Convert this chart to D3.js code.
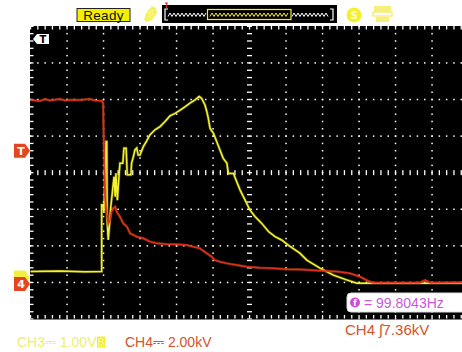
<!DOCTYPE html>
<html><head><meta charset="utf-8">
<script src="https://cdn.jsdelivr.net/npm/d3@7"></script>
<style>body{margin:0;background:#fff;overflow:hidden}</style>
</head><body>
<svg id="c" width="462" height="352"></svg>
<script>
// ---- data (time in divisions from trigger centre) ----
const ch3Time = [-6.0,-5.19,-4.51,-4.05,-4.05,-4.01,-3.99,-3.93,-3.91,-3.90,-3.87,-3.84,-3.80,-3.75,-3.71,-3.68,-3.66,-3.62,-3.59,-3.55,-3.47,-3.44,-3.38,-3.35,-3.25,-3.23,-3.18,-3.14,-3.09,-3.05,-3.00,-2.91,-2.82,-2.73,-2.59,-2.45,-2.32,-2.18,-2.04,-1.90,-1.77,-1.63,-1.49,-1.38,-1.31,-1.22,-1.17,-1.13,-1.08,-0.99,-0.90,-0.81,-0.72,-0.62,-0.58,-0.44,-0.35,-0.26,-0.12,0.01,0.15,0.33,0.52,0.70,0.88,1.06,1.25,1.38,1.57,1.93,2.30,2.66,2.94,3.30,6.0];
const ch3Volts = [0.0,0.01,-0.01,0.0,1.82,1.82,1.60,3.55,3.55,1.41,0.86,1.22,1.77,2.23,2.59,2.04,2.68,1.95,2.41,2.96,2.96,3.37,3.37,2.64,2.64,2.96,3.14,3.32,3.37,3.18,3.18,3.41,3.56,3.73,3.87,3.96,4.09,4.25,4.32,4.41,4.50,4.60,4.69,4.78,4.73,4.55,4.37,4.19,3.91,3.78,3.55,3.32,3.09,2.96,2.68,2.68,2.45,2.23,1.95,1.68,1.50,1.32,1.09,0.95,0.86,0.72,0.59,0.50,0.31,0.09,-0.10,-0.23,-0.32,-0.32,-0.32];
const ch4Time = [-6.0,-5.74,-5.60,-5.47,-5.19,-5.05,-4.92,-4.64,-4.37,-4.23,-4.05,-4.01,-3.99,-3.96,-3.91,-3.87,-3.82,-3.78,-3.73,-3.68,-3.64,-3.55,-3.46,-3.36,-3.27,-3.18,-3.09,-2.91,-2.73,-2.54,-2.27,-1.99,-1.72,-1.54,-1.36,-1.17,-1.04,-0.95,-0.81,-0.62,-0.35,-0.08,0.29,0.65,1.02,1.38,1.93,2.40,2.75,3.03,3.25,3.39,4.67,4.81,4.95,6.0];
const ch4KiloVolts = [9.97,9.92,10.03,9.94,10.03,9.94,9.97,9.97,10.03,9.94,9.93,9.79,7.42,4.68,3.78,3.23,3.41,3.87,4.05,4.14,3.87,3.59,3.23,3.05,2.68,2.59,2.50,2.41,2.23,2.14,2.08,2.08,2.04,1.95,1.86,1.59,1.41,1.22,1.13,1.04,0.95,0.86,0.80,0.77,0.72,0.71,0.64,0.59,0.50,0.31,0.08,-0.02,-0.02,0.13,-0.02,0.0];
const statusLabel = "Ready";
const ch3Label = "CH3\u2393 1.00V";
const ch4Label = "CH4\u2393 2.00kV";
const trigLabel = ["CH4 ", "\u0283", "7.36kV"];
const freqLabel = "= 99.8043Hz";
const triggerLevel = 7.36; // kV
const timeDivs = d3.range(-6, 7);
const voltDivs = d3.range(-4, 5);

// ---- scales ----
const svg = d3.select("#c");
const x = d3.scaleLinear().domain([-6, 6]).range([30.5, 468.5]);
const yDiv = d3.scaleLinear().domain([-4, 4]).range([319, 26.3]);
const y3 = d3.scaleLinear().domain([-1.3, 6.7]).range([319, 26.3]);
const y4 = d3.scaleLinear().domain([-2, 14]).range([319, 26.3]);

// ---- header ----
const hdr = svg.append("g");
hdr.append("rect").attr("x", 77).attr("y", 8.5).attr("width", 53).attr("height", 13)
  .attr("fill", "#f2ef00").attr("stroke", "#222").attr("stroke-width", 1);
hdr.append("text").attr("x", 103.5).attr("y", 19.5).attr("text-anchor", "middle")
  .attr("font-family", "Liberation Sans, Arial").attr("font-size", 13.5).attr("fill", "#111")
  .attr("letter-spacing", 0.3).text(statusLabel);
// hand icon
hdr.append("path").attr("d", "M144,20 L146,13 L152,6 L156,8 L157,13 L152,20 L147,22 Z")
  .attr("fill", "#f4ef40").attr("opacity", 0.85);
hdr.append("path").attr("d", "M148,14 L153,10 M149,17 L154,13").attr("stroke", "#fff9b0").attr("stroke-width", 1);
// wave box
hdr.append("rect").attr("x", 162).attr("y", 5).attr("width", 175).attr("height", 18).attr("fill", "#000");
hdr.append("path").attr("d", "M168,9 L165,9 L165,20 L168,20 M330,9 L333,9 L333,20 L330,20")
  .attr("fill", "none").attr("stroke", "#fff").attr("stroke-width", 1.2);
hdr.append("path").attr("d", "M165,3 L168,3 M166.5,3 L166.5,8").attr("stroke", "#e03020").attr("stroke-width", 1.2);
function zig(x0, x1) {
  const pts = d3.range(x0, x1, 2).map((v, i) => [v, i % 2 ? 13 : 16.5]);
  return d3.line()(pts);
}
hdr.append("path").attr("d", zig(168, 207)).attr("fill", "none").attr("stroke", "#fff").attr("stroke-width", 1);
hdr.append("path").attr("d", zig(292, 330)).attr("fill", "none").attr("stroke", "#fff").attr("stroke-width", 1);
hdr.append("rect").attr("x", 207.5).attr("y", 9.5).attr("width", 83.5).attr("height", 10)
  .attr("fill", "none").attr("stroke", "#f2ef30").attr("stroke-width", 1.2);
hdr.append("path").attr("d", zig(210, 289)).attr("fill", "none").attr("stroke", "#f2ef30").attr("stroke-width", 1);
// round icon
hdr.append("circle").attr("cx", 354).attr("cy", 15).attr("r", 7.5).attr("fill", "#f4ef30");
hdr.append("text").attr("x", 354).attr("y", 19).attr("text-anchor", "middle").attr("font-family", "DejaVu Sans")
  .attr("font-size", 10).attr("font-weight", "bold").attr("fill", "#fffbd0").text("S");
// printer icon
hdr.append("rect").attr("x", 374).attr("y", 6).attr("width", 17).attr("height", 6).attr("fill", "#f6f07a");
hdr.append("rect").attr("x", 373).attr("y", 12).attr("width", 19).attr("height", 4).attr("fill", "#fff").attr("stroke", "#f6f07a").attr("stroke-width", 1.5);
hdr.append("rect").attr("x", 376).attr("y", 17).attr("width", 13).attr("height", 5).attr("fill", "#f6f07a");

// ---- screen ----
svg.append("defs").append("clipPath").attr("id", "scr").append("rect")
  .attr("x", 30).attr("y", 26).attr("width", 440).attr("height", 293.5);
svg.append("rect").attr("x", 30).attr("y", 26).attr("width", 440).attr("height", 293.5).attr("fill", "#000");
const grid = svg.append("g").attr("clip-path", "url(#scr)").attr("fill", "#fff");
const minorX = d3.range(-6, 6.01, 0.2);
const minorY = d3.range(-4, 4.01, 0.2);
// dotted grid lines
timeDivs.filter(d => d !== 0 && Math.abs(d) < 6).forEach(t => {
  grid.selectAll(null).data(minorY).enter().append("rect")
    .attr("x", x(t) - 0.7).attr("y", d => yDiv(d) - 0.7).attr("width", 1.5).attr("height", 1.5);
});
voltDivs.filter(d => d !== 0 && Math.abs(d) < 4).forEach(v => {
  grid.selectAll(null).data(minorX).enter().append("rect")
    .attr("x", d => x(d) - 0.7).attr("y", yDiv(v) - 0.7).attr("width", 1.5).attr("height", 1.5);
});
// centre lines with dashes
grid.selectAll(null).data(minorX).enter().append("rect")
  .attr("x", d => x(d) - 0.6).attr("y", yDiv(0) - 2.5).attr("width", 1.3).attr("height", 5);
grid.selectAll(null).data(minorY).enter().append("rect")
  .attr("x", x(0) - 2.5).attr("y", d => yDiv(d) - 0.6).attr("width", 5).attr("height", 1.3);
// border ticks
grid.selectAll(null).data(minorX).enter().append("rect")
  .attr("x", d => x(d) - 0.6).attr("y", 26).attr("width", 1.3).attr("height", 3.5);
grid.selectAll(null).data(minorX).enter().append("rect")
  .attr("x", d => x(d) - 0.6).attr("y", 315).attr("width", 1.3).attr("height", 3.5);
grid.selectAll(null).data(minorY).enter().append("rect")
  .attr("x", 30).attr("y", d => yDiv(d) - 0.6).attr("width", 3.5).attr("height", 1.3);

// ---- traces ----
const traces = svg.append("g").attr("clip-path", "url(#scr)");
const l3 = d3.line().x(d => x(d[0])).y(d => y3(d[1]));
const l4 = d3.line().x(d => x(d[0])).y(d => y4(d[1]));
const d3pts = ch3Time.map((t, i) => [t, ch3Volts[i]]);
const d4pts = ch4Time.map((t, i) => [t, ch4KiloVolts[i]]);
traces.append("path").attr("d", l3(d3pts)).attr("fill", "none").attr("stroke", "#f0ee20").attr("stroke-width", 2.8).attr("opacity", 0.35);
traces.append("path").attr("d", l3(d3pts)).attr("fill", "none").attr("stroke", "#f4f230").attr("stroke-width", 1.5);
traces.append("path").attr("d", l4(d4pts)).attr("fill", "none").attr("stroke", "#e8501a").attr("stroke-width", 2.8).attr("opacity", 0.4);
traces.append("path").attr("d", l4(d4pts)).attr("fill", "none").attr("stroke", "#e0301a").attr("stroke-width", 1.5);

// top trigger position marker
svg.append("path").attr("d", "M33,39 L37,34 L49,34 L49,44 L37,44 Z").attr("fill", "#fff");
svg.append("text").attr("x", 43).attr("y", 43).attr("text-anchor", "middle").attr("font-family", "DejaVu Sans")
  .attr("font-size", 10).attr("font-weight", "bold").attr("fill", "#000").text("T");

// left markers
function markerShape(yc, fill) {
  svg.append("path").attr("d", `M14,${yc - 7} L25,${yc - 7} L30,${yc} L25,${yc + 7} L14,${yc + 7} Z`).attr("fill", fill);
}
function markerLabel(yc, label) {
  svg.append("text").attr("x", 21).attr("y", yc + 4.5).attr("text-anchor", "middle").attr("font-family", "DejaVu Sans")
    .attr("font-size", 11).attr("font-weight", "bold").attr("fill", "#fff").text(label);
}
markerShape(y4(triggerLevel) + 3, "#e4441e"); markerLabel(y4(triggerLevel) + 3, "T");
markerShape(y3(0) + 6, "#f2ef40");
markerShape(y4(0) + 1.5, "#e4441e"); markerLabel(y4(0) + 1.5, "4");

// frequency box
svg.append("rect").attr("x", 347).attr("y", 293).attr("width", 125).attr("height", 19).attr("rx", 4)
  .attr("fill", "#fff").attr("stroke", "#ddd");
svg.append("circle").attr("cx", 355).attr("cy", 302.5).attr("r", 5).attr("fill", "#cc4fd6");
svg.append("text").attr("x", 355).attr("y", 306).attr("text-anchor", "middle").attr("font-family", "DejaVu Sans")
  .attr("font-size", 8).attr("font-weight", "bold").attr("fill", "#fff").text("f");
svg.append("text").attr("x", 364).attr("y", 307.5).attr("font-family", "Liberation Sans, Arial")
  .attr("font-size", 14).attr("fill", "#c85ad8").text(freqLabel);

// bottom labels
const tl = svg.append("text").attr("x", 345).attr("y", 335).attr("font-family", "Liberation Sans, Arial")
  .attr("font-size", 15).attr("fill", "#d4522c");
tl.selectAll("tspan").data(trigLabel).enter().append("tspan").text(d => d);
svg.append("text").attr("x", 17).attr("y", 347).attr("font-family", "Liberation Sans, Arial")
  .attr("font-size", 14).attr("fill", "#f0ee6a").text(ch3Label);
svg.append("rect").attr("x", 97).attr("y", 336.5).attr("width", 8).attr("height", 11).attr("fill", "#f2ef30");
svg.append("text").attr("x", 101).attr("y", 346).attr("text-anchor", "middle").attr("font-family", "Liberation Sans, Arial")
  .attr("font-size", 10).attr("fill", "#fff8a0").text("B");
svg.append("text").attr("x", 125).attr("y", 347).attr("font-family", "Liberation Sans, Arial")
  .attr("font-size", 14).attr("fill", "#d4522c").text(ch4Label);
</script>
</body></html>
